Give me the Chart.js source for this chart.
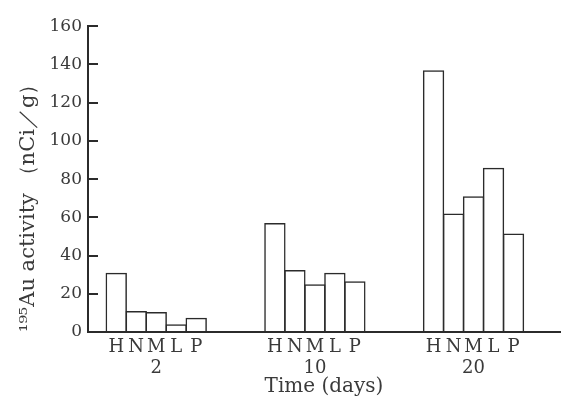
<!DOCTYPE html>
<html>
<head>
<meta charset="utf-8">
<script src="https://cdn.jsdelivr.net/npm/chart.js@4"></script>
<style>
  body { margin: 0; background: #fff; }
  canvas { display: block; }
</style>
</head>
<body>
<canvas id="c-activity" width="569" height="403"></canvas>
<script>
// data
const days = ['2', '10', '20'];
const tissues = ['H', 'N', 'M', 'L', 'P'];
const valH = [31, 57, 137];
const valN = [11, 32.5, 62];
const valM = [10.5, 25, 71];
const valL = [4, 31, 86];
const valP = [7.5, 26.5, 51.5];
const yTicks = [0, 20, 40, 60, 80, 100, 120, 140, 160];

const ink = '#2b2b2b';
const textInk = '#3a3a3a';
const serif = '"DejaVu Serif", "Liberation Serif", serif';
const groupWidth = 0.63; // share of one day slot taken by the five bars
const xMin = -0.43;
const xMax = 2.545;

const series = [valH, valN, valM, valL, valP];

// one label tick under each bar, so the letters sit below their bars
function barTicks() {
    const out = [];
    days.forEach((d, i) => {
        tissues.forEach((t, k) => {
            out.push({ value: i + (k - 2) * groupWidth / tissues.length });
        });
    });
    return out;
}

new Chart(document.getElementById('c-activity'), {
    type: 'bar',
    data: {
        datasets: series.map((vals, k) => ({
            label: tissues[k],
            data: vals.map((v, i) => ({ x: i, y: v })),
            backgroundColor: 'rgba(255,255,255,0)',
            borderColor: ink,
            borderWidth: 1.5,
            categoryPercentage: groupWidth,
            barPercentage: 1.07 // neighbours share their edge line
        }))
    },
    options: {
        responsive: false,
        animation: false,
        layout: { padding: { top: 15, right: 9, bottom: 4, left: 0 } },
        plugins: { legend: { display: false }, tooltip: { enabled: false } },
        scales: {
            // the axis the bars sit on: one tick per day slot
            x: {
                type: 'linear',
                offset: false,
                weight: 0,
                min: xMin,
                max: xMax,
                afterBuildTicks: scale => { scale.ticks = days.map((d, i) => ({ value: i })); },
                afterFit: scale => { scale.height = 0; },
                grid: { display: false, offset: false },
                border: { display: true, color: ink, width: 2 },
                ticks: { display: false }
            },
            // label axis: letters under the bars, day below the middle one
            xl: {
                type: 'linear',
                position: 'bottom',
                offset: false,
                weight: 1,
                min: xMin,
                max: xMax,
                afterBuildTicks: scale => { scale.ticks = barTicks(); },
                afterFit: scale => { scale.height = 67; },
                grid: { display: false, offset: false },
                border: { display: false },
                ticks: {
                    autoSkip: false,
                    maxRotation: 0,
                    padding: -3,
                    color: textInk,
                    font: { family: serif, size: 18, lineHeight: 1.15 },
                    callback: (value, index) => {
                        const k = index % tissues.length;
                        const g = Math.floor(index / tissues.length);
                        return k === 2 ? [tissues[k], days[g]] : tissues[k];
                    }
                },
                title: {
                    display: true,
                    text: 'Time (days)',
                    color: textInk,
                    font: { family: serif, size: 20 },
                    padding: { top: 0, bottom: 0 }
                }
            },
            y: {
                min: 0,
                max: 160,
                afterBuildTicks: scale => { scale.ticks = yTicks.map(v => ({ value: v })); },
                afterFit: scale => { scale.width = 88; },
                grid: { drawOnChartArea: false, tickLength: -10, color: ink, lineWidth: 2 },
                border: { display: true, color: ink, width: 2 },
                ticks: {
                    padding: 16,
                    color: textInk,
                    font: { family: serif, size: 17 }
                },
                title: {
                    display: true,
                    text: '¹⁹⁵Au activity （nCi／g）',
                    align: 'start',
                    color: textInk,
                    font: { family: serif, size: 21 },
                    padding: { top: 16, bottom: 0 }
                }
            }
        }
    }
});
</script>
</body>
</html>
